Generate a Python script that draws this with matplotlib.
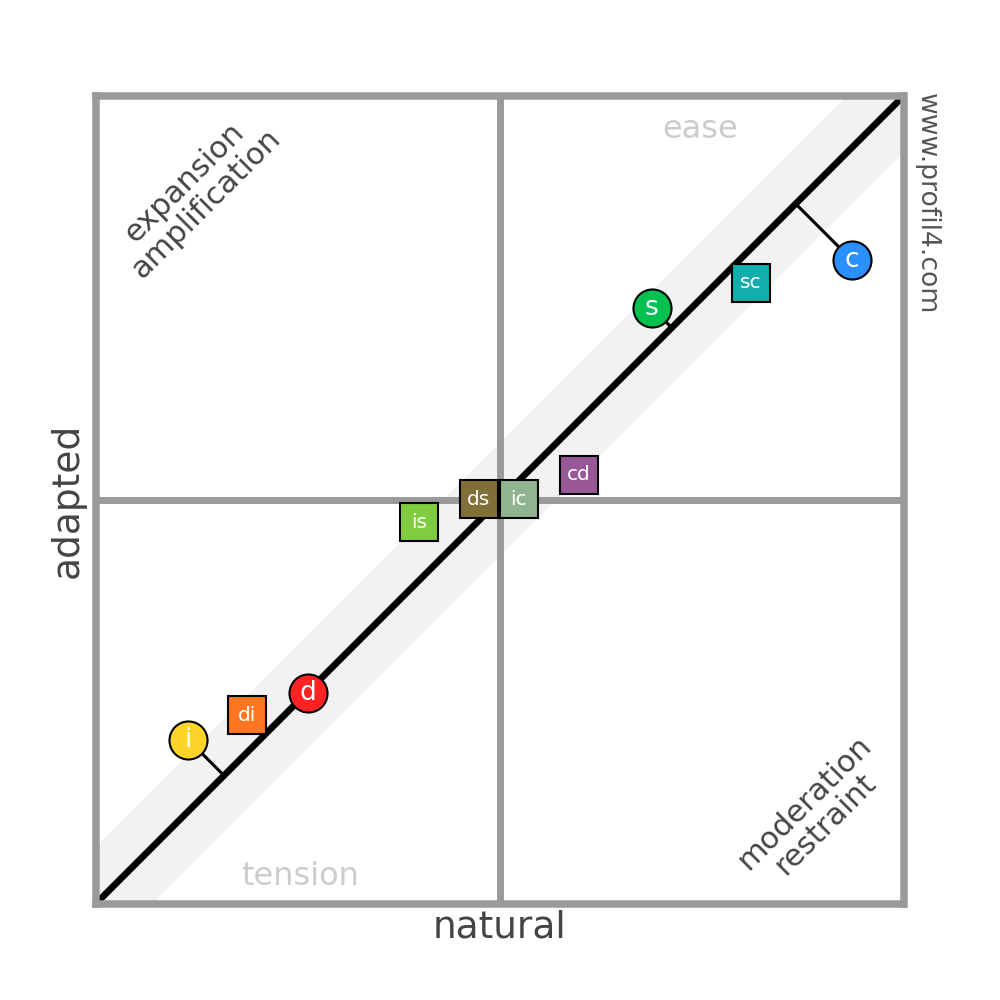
import matplotlib
matplotlib.use("Agg")
import matplotlib.pyplot as plt
import numpy as np

# ---- data ----
circle_labels = ["i", "d", "s", "c"]
circle_x = [11.4, 26.3, 68.8, 93.6]
circle_y = [20.3, 26.1, 73.8, 79.7]
circle_colors = ["#FFD42A", "#FF2222", "#00C050", "#2A90FF"]

square_labels = ["di", "is", "ds", "ic", "cd", "sc"]
square_x = [18.7, 40.0, 47.4, 52.35, 59.8, 81.1]
square_y = [23.3, 47.2, 50.05, 50.05, 53.1, 76.9]
square_colors = ["#FF7722", "#80CC40", "#807038", "#90B490", "#985898", "#14ADAD"]

band_half_width = 7.0

quadrant_texts = ["ease", "tension"]
corner_texts = ["expansion\namplification", "moderation\nrestraint"]
x_label = "natural"
y_label = "adapted"
site = "www.profil4.com"

# ---- figure ----
fig = plt.figure(figsize=(10, 10), dpi=100)
ax = fig.add_axes([0.096, 0.0965, 0.8075, 0.8075])
ax.set_xlim(0, 100)
ax.set_ylim(0, 100)
ax.set_xticks([])
ax.set_yticks([])
frame_gray = "#9a9a9a"
for sp in ax.spines.values():
    sp.set_color(frame_gray)
    sp.set_linewidth(5.4)
    sp.set_zorder(10)

# band around diagonal
poly_x = [0, band_half_width, 100, 100, 100 - band_half_width, 0]
poly_y = [0, 0, 100 - band_half_width, 100, 100, band_half_width]
ax.fill(poly_x, poly_y, color="#f2f2f2", lw=0, zorder=1)

# quadrant lines
ax.axvline(50, color=frame_gray, lw=5.0, zorder=2)
ax.axhline(50, color=frame_gray, lw=5.0, zorder=2)

# diagonal
ax.plot([0, 100], [0, 100], color="black", lw=4.8, zorder=3, solid_capstyle="butt")

# connectors from circles to diagonal
for x, y in zip(circle_x, circle_y):
    m = (x + y) / 2
    ax.plot([x, m], [y, m], color="black", lw=2.2, zorder=4)

ms = 27.4
for lab, x, y, c in zip(square_labels, square_x, square_y, square_colors):
    ax.plot([x], [y], marker="s", ms=ms, mfc=c, mec="black", mew=1.5, zorder=5)
    ax.text(x, y, lab, color="white", fontsize=14.5, ha="center", va="center", zorder=6)

for lab, x, y, c in zip(circle_labels, circle_x, circle_y, circle_colors):
    ax.plot([x], [y], marker="o", ms=ms, mfc=c, mec="black", mew=1.5, zorder=5)
    ax.text(x, y, lab, color="white", fontsize=19, ha="center", va="center", zorder=6)

light = "#cccccc"
dark = "#444444"
ax.text(74.8, 95.9, quadrant_texts[0], color=light, fontsize=23, ha="center", va="center")
ax.text(25.26, 3.3, quadrant_texts[1], color=light, fontsize=23, ha="center", va="center")

ax.text(12.3, 88.0, corner_texts[0], color=dark, fontsize=22, rotation=45,
        ha="center", va="center", multialignment="center", linespacing=1.05,
        rotation_mode="anchor")
ax.text(89.0, 11.2, corner_texts[1], color=dark, fontsize=22, rotation=45,
        ha="center", va="center", multialignment="center", linespacing=1.05,
        rotation_mode="anchor")

fig.text(0.500, 1 - 0.928, x_label, color=dark, fontsize=27, ha="center", va="center")
fig.text(0.068, 0.5, y_label, color=dark, fontsize=27, ha="center", va="center", rotation=90)
fig.text(0.927, 1 - 0.093, site, color="#555555", fontsize=19.2, rotation=-90,
         rotation_mode="anchor", ha="left", va="center")

fig.savefig("out.png", dpi=100, facecolor="white")
